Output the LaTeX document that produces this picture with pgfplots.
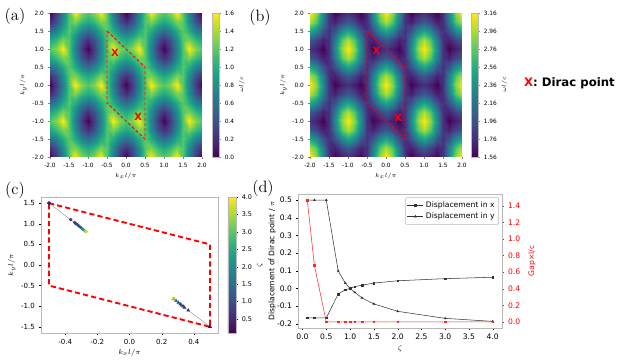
\documentclass[border=0pt]{standalone}
\usepackage{pgfplots}
\pgfplotsset{compat=1.18}
\usepackage{pgfplotstable}
\usepackage{fontspec}
\newfontfamily\dv{DejaVu Sans}
\definecolor{spine}{HTML}{B8B8B8}
\definecolor{mred}{HTML}{FF0000}
\definecolor{dline}{HTML}{333333}

% lower (L) and upper (U) band, omega l/c, on a k-grid
\pgfplotstableread{
x y L U
-2 -2 0 3.16
-1.83 -2 0.26 2.91
-1.67 -2 0.70 2.33
-1.5 -2 1.18 1.78
-1.33 -2 1.6 1.56
-1.17 -2 1.30 1.69
-1 -2 1.18 1.78
-0.83 -2 1.30 1.69
-0.67 -2 1.6 1.56
-0.5 -2 1.18 1.78
-0.33 -2 0.70 2.33
-0.17 -2 0.26 2.91
0 -2 0 3.16
0.17 -2 0.26 2.91
0.33 -2 0.70 2.33
0.5 -2 1.18 1.78
0.67 -2 1.6 1.56
0.83 -2 1.30 1.69
1 -2 1.18 1.78
1.17 -2 1.30 1.69
1.33 -2 1.6 1.56
1.5 -2 1.18 1.78
1.67 -2 0.70 2.33
1.83 -2 0.26 2.91
2 -2 0 3.16
-2 -1.75 0.21 2.97
-1.83 -1.75 0.39 2.75
-1.67 -1.75 0.78 2.23
-1.5 -1.75 1.18 1.78
-1.33 -1.75 1.28 1.70
-1.17 -1.75 1.07 1.89
-1 -1.75 0.96 2.01
-0.83 -1.75 1.07 1.89
-0.67 -1.75 1.28 1.70
-0.5 -1.75 1.18 1.78
-0.33 -1.75 0.78 2.23
-0.17 -1.75 0.39 2.75
0 -1.75 0.21 2.97
0.17 -1.75 0.39 2.75
0.33 -1.75 0.78 2.23
0.5 -1.75 1.18 1.78
0.67 -1.75 1.28 1.70
0.83 -1.75 1.07 1.89
1 -1.75 0.96 2.01
1.17 -1.75 1.07 1.89
1.33 -1.75 1.28 1.70
1.5 -1.75 1.18 1.78
1.67 -1.75 0.78 2.23
1.83 -1.75 0.39 2.75
2 -1.75 0.21 2.97
-2 -1.5 0.57 2.50
-1.83 -1.5 0.70 2.33
-1.67 -1.5 0.99 1.97
-1.5 -1.5 1.18 1.78
-1.33 -1.5 0.99 1.97
-1.17 -1.5 0.70 2.33
-1 -1.5 0.57 2.50
-0.83 -1.5 0.70 2.33
-0.67 -1.5 0.99 1.97
-0.5 -1.5 1.18 1.78
-0.33 -1.5 0.99 1.97
-0.17 -1.5 0.70 2.33
0 -1.5 0.57 2.50
0.17 -1.5 0.70 2.33
0.33 -1.5 0.99 1.97
0.5 -1.5 1.18 1.78
0.67 -1.5 0.99 1.97
0.83 -1.5 0.70 2.33
1 -1.5 0.57 2.50
1.17 -1.5 0.70 2.33
1.33 -1.5 0.99 1.97
1.5 -1.5 1.18 1.78
1.67 -1.5 0.99 1.97
1.83 -1.5 0.70 2.33
2 -1.5 0.57 2.50
-2 -1.25 0.96 2.01
-1.83 -1.25 1.07 1.89
-1.67 -1.25 1.28 1.70
-1.5 -1.25 1.18 1.78
-1.33 -1.25 0.78 2.23
-1.17 -1.25 0.39 2.75
-1 -1.25 0.21 2.97
-0.83 -1.25 0.39 2.75
-0.67 -1.25 0.78 2.23
-0.5 -1.25 1.18 1.78
-0.33 -1.25 1.28 1.70
-0.17 -1.25 1.07 1.89
0 -1.25 0.96 2.01
0.17 -1.25 1.07 1.89
0.33 -1.25 1.28 1.70
0.5 -1.25 1.18 1.78
0.67 -1.25 0.78 2.23
0.83 -1.25 0.39 2.75
1 -1.25 0.21 2.97
1.17 -1.25 0.39 2.75
1.33 -1.25 0.78 2.23
1.5 -1.25 1.18 1.78
1.67 -1.25 1.28 1.70
1.83 -1.25 1.07 1.89
2 -1.25 0.96 2.01
-2 -1 1.18 1.78
-1.83 -1 1.30 1.69
-1.67 -1 1.6 1.56
-1.5 -1 1.18 1.78
-1.33 -1 0.70 2.33
-1.17 -1 0.26 2.91
-1 -1 0 3.16
-0.83 -1 0.26 2.91
-0.67 -1 0.70 2.33
-0.5 -1 1.18 1.78
-0.33 -1 1.6 1.56
-0.17 -1 1.30 1.69
0 -1 1.18 1.78
0.17 -1 1.30 1.69
0.33 -1 1.6 1.56
0.5 -1 1.18 1.78
0.67 -1 0.70 2.33
0.83 -1 0.26 2.91
1 -1 0 3.16
1.17 -1 0.26 2.91
1.33 -1 0.70 2.33
1.5 -1 1.18 1.78
1.67 -1 1.6 1.56
1.83 -1 1.30 1.69
2 -1 1.18 1.78
-2 -0.75 0.96 2.01
-1.83 -0.75 1.07 1.89
-1.67 -0.75 1.28 1.70
-1.5 -0.75 1.18 1.78
-1.33 -0.75 0.78 2.23
-1.17 -0.75 0.39 2.75
-1 -0.75 0.21 2.97
-0.83 -0.75 0.39 2.75
-0.67 -0.75 0.78 2.23
-0.5 -0.75 1.18 1.78
-0.33 -0.75 1.28 1.70
-0.17 -0.75 1.07 1.89
0 -0.75 0.96 2.01
0.17 -0.75 1.07 1.89
0.33 -0.75 1.28 1.70
0.5 -0.75 1.18 1.78
0.67 -0.75 0.78 2.23
0.83 -0.75 0.39 2.75
1 -0.75 0.21 2.97
1.17 -0.75 0.39 2.75
1.33 -0.75 0.78 2.23
1.5 -0.75 1.18 1.78
1.67 -0.75 1.28 1.70
1.83 -0.75 1.07 1.89
2 -0.75 0.96 2.01
-2 -0.5 0.57 2.50
-1.83 -0.5 0.70 2.33
-1.67 -0.5 0.99 1.97
-1.5 -0.5 1.18 1.78
-1.33 -0.5 0.99 1.97
-1.17 -0.5 0.70 2.33
-1 -0.5 0.57 2.50
-0.83 -0.5 0.70 2.33
-0.67 -0.5 0.99 1.97
-0.5 -0.5 1.18 1.78
-0.33 -0.5 0.99 1.97
-0.17 -0.5 0.70 2.33
0 -0.5 0.57 2.50
0.17 -0.5 0.70 2.33
0.33 -0.5 0.99 1.97
0.5 -0.5 1.18 1.78
0.67 -0.5 0.99 1.97
0.83 -0.5 0.70 2.33
1 -0.5 0.57 2.50
1.17 -0.5 0.70 2.33
1.33 -0.5 0.99 1.97
1.5 -0.5 1.18 1.78
1.67 -0.5 0.99 1.97
1.83 -0.5 0.70 2.33
2 -0.5 0.57 2.50
-2 -0.25 0.21 2.97
-1.83 -0.25 0.39 2.75
-1.67 -0.25 0.78 2.23
-1.5 -0.25 1.18 1.78
-1.33 -0.25 1.28 1.70
-1.17 -0.25 1.07 1.89
-1 -0.25 0.96 2.01
-0.83 -0.25 1.07 1.89
-0.67 -0.25 1.28 1.70
-0.5 -0.25 1.18 1.78
-0.33 -0.25 0.78 2.23
-0.17 -0.25 0.39 2.75
0 -0.25 0.21 2.97
0.17 -0.25 0.39 2.75
0.33 -0.25 0.78 2.23
0.5 -0.25 1.18 1.78
0.67 -0.25 1.28 1.70
0.83 -0.25 1.07 1.89
1 -0.25 0.96 2.01
1.17 -0.25 1.07 1.89
1.33 -0.25 1.28 1.70
1.5 -0.25 1.18 1.78
1.67 -0.25 0.78 2.23
1.83 -0.25 0.39 2.75
2 -0.25 0.21 2.97
-2 0 0 3.16
-1.83 0 0.26 2.91
-1.67 0 0.70 2.33
-1.5 0 1.18 1.78
-1.33 0 1.6 1.56
-1.17 0 1.30 1.69
-1 0 1.18 1.78
-0.83 0 1.30 1.69
-0.67 0 1.6 1.56
-0.5 0 1.18 1.78
-0.33 0 0.70 2.33
-0.17 0 0.26 2.91
0 0 0 3.16
0.17 0 0.26 2.91
0.33 0 0.70 2.33
0.5 0 1.18 1.78
0.67 0 1.6 1.56
0.83 0 1.30 1.69
1 0 1.18 1.78
1.17 0 1.30 1.69
1.33 0 1.6 1.56
1.5 0 1.18 1.78
1.67 0 0.70 2.33
1.83 0 0.26 2.91
2 0 0 3.16
-2 0.25 0.21 2.97
-1.83 0.25 0.39 2.75
-1.67 0.25 0.78 2.23
-1.5 0.25 1.18 1.78
-1.33 0.25 1.28 1.70
-1.17 0.25 1.07 1.89
-1 0.25 0.96 2.01
-0.83 0.25 1.07 1.89
-0.67 0.25 1.28 1.70
-0.5 0.25 1.18 1.78
-0.33 0.25 0.78 2.23
-0.17 0.25 0.39 2.75
0 0.25 0.21 2.97
0.17 0.25 0.39 2.75
0.33 0.25 0.78 2.23
0.5 0.25 1.18 1.78
0.67 0.25 1.28 1.70
0.83 0.25 1.07 1.89
1 0.25 0.96 2.01
1.17 0.25 1.07 1.89
1.33 0.25 1.28 1.70
1.5 0.25 1.18 1.78
1.67 0.25 0.78 2.23
1.83 0.25 0.39 2.75
2 0.25 0.21 2.97
-2 0.5 0.57 2.50
-1.83 0.5 0.70 2.33
-1.67 0.5 0.99 1.97
-1.5 0.5 1.18 1.78
-1.33 0.5 0.99 1.97
-1.17 0.5 0.70 2.33
-1 0.5 0.57 2.50
-0.83 0.5 0.70 2.33
-0.67 0.5 0.99 1.97
-0.5 0.5 1.18 1.78
-0.33 0.5 0.99 1.97
-0.17 0.5 0.70 2.33
0 0.5 0.57 2.50
0.17 0.5 0.70 2.33
0.33 0.5 0.99 1.97
0.5 0.5 1.18 1.78
0.67 0.5 0.99 1.97
0.83 0.5 0.70 2.33
1 0.5 0.57 2.50
1.17 0.5 0.70 2.33
1.33 0.5 0.99 1.97
1.5 0.5 1.18 1.78
1.67 0.5 0.99 1.97
1.83 0.5 0.70 2.33
2 0.5 0.57 2.50
-2 0.75 0.96 2.01
-1.83 0.75 1.07 1.89
-1.67 0.75 1.28 1.70
-1.5 0.75 1.18 1.78
-1.33 0.75 0.78 2.23
-1.17 0.75 0.39 2.75
-1 0.75 0.21 2.97
-0.83 0.75 0.39 2.75
-0.67 0.75 0.78 2.23
-0.5 0.75 1.18 1.78
-0.33 0.75 1.28 1.70
-0.17 0.75 1.07 1.89
0 0.75 0.96 2.01
0.17 0.75 1.07 1.89
0.33 0.75 1.28 1.70
0.5 0.75 1.18 1.78
0.67 0.75 0.78 2.23
0.83 0.75 0.39 2.75
1 0.75 0.21 2.97
1.17 0.75 0.39 2.75
1.33 0.75 0.78 2.23
1.5 0.75 1.18 1.78
1.67 0.75 1.28 1.70
1.83 0.75 1.07 1.89
2 0.75 0.96 2.01
-2 1 1.18 1.78
-1.83 1 1.30 1.69
-1.67 1 1.6 1.56
-1.5 1 1.18 1.78
-1.33 1 0.70 2.33
-1.17 1 0.26 2.91
-1 1 0 3.16
-0.83 1 0.26 2.91
-0.67 1 0.70 2.33
-0.5 1 1.18 1.78
-0.33 1 1.6 1.56
-0.17 1 1.30 1.69
0 1 1.18 1.78
0.17 1 1.30 1.69
0.33 1 1.6 1.56
0.5 1 1.18 1.78
0.67 1 0.70 2.33
0.83 1 0.26 2.91
1 1 0 3.16
1.17 1 0.26 2.91
1.33 1 0.70 2.33
1.5 1 1.18 1.78
1.67 1 1.6 1.56
1.83 1 1.30 1.69
2 1 1.18 1.78
-2 1.25 0.96 2.01
-1.83 1.25 1.07 1.89
-1.67 1.25 1.28 1.70
-1.5 1.25 1.18 1.78
-1.33 1.25 0.78 2.23
-1.17 1.25 0.39 2.75
-1 1.25 0.21 2.97
-0.83 1.25 0.39 2.75
-0.67 1.25 0.78 2.23
-0.5 1.25 1.18 1.78
-0.33 1.25 1.28 1.70
-0.17 1.25 1.07 1.89
0 1.25 0.96 2.01
0.17 1.25 1.07 1.89
0.33 1.25 1.28 1.70
0.5 1.25 1.18 1.78
0.67 1.25 0.78 2.23
0.83 1.25 0.39 2.75
1 1.25 0.21 2.97
1.17 1.25 0.39 2.75
1.33 1.25 0.78 2.23
1.5 1.25 1.18 1.78
1.67 1.25 1.28 1.70
1.83 1.25 1.07 1.89
2 1.25 0.96 2.01
-2 1.5 0.57 2.50
-1.83 1.5 0.70 2.33
-1.67 1.5 0.99 1.97
-1.5 1.5 1.18 1.78
-1.33 1.5 0.99 1.97
-1.17 1.5 0.70 2.33
-1 1.5 0.57 2.50
-0.83 1.5 0.70 2.33
-0.67 1.5 0.99 1.97
-0.5 1.5 1.18 1.78
-0.33 1.5 0.99 1.97
-0.17 1.5 0.70 2.33
0 1.5 0.57 2.50
0.17 1.5 0.70 2.33
0.33 1.5 0.99 1.97
0.5 1.5 1.18 1.78
0.67 1.5 0.99 1.97
0.83 1.5 0.70 2.33
1 1.5 0.57 2.50
1.17 1.5 0.70 2.33
1.33 1.5 0.99 1.97
1.5 1.5 1.18 1.78
1.67 1.5 0.99 1.97
1.83 1.5 0.70 2.33
2 1.5 0.57 2.50
-2 1.75 0.21 2.97
-1.83 1.75 0.39 2.75
-1.67 1.75 0.78 2.23
-1.5 1.75 1.18 1.78
-1.33 1.75 1.28 1.70
-1.17 1.75 1.07 1.89
-1 1.75 0.96 2.01
-0.83 1.75 1.07 1.89
-0.67 1.75 1.28 1.70
-0.5 1.75 1.18 1.78
-0.33 1.75 0.78 2.23
-0.17 1.75 0.39 2.75
0 1.75 0.21 2.97
0.17 1.75 0.39 2.75
0.33 1.75 0.78 2.23
0.5 1.75 1.18 1.78
0.67 1.75 1.28 1.70
0.83 1.75 1.07 1.89
1 1.75 0.96 2.01
1.17 1.75 1.07 1.89
1.33 1.75 1.28 1.70
1.5 1.75 1.18 1.78
1.67 1.75 0.78 2.23
1.83 1.75 0.39 2.75
2 1.75 0.21 2.97
-2 2 0 3.16
-1.83 2 0.26 2.91
-1.67 2 0.70 2.33
-1.5 2 1.18 1.78
-1.33 2 1.6 1.56
-1.17 2 1.30 1.69
-1 2 1.18 1.78
-0.83 2 1.30 1.69
-0.67 2 1.6 1.56
-0.5 2 1.18 1.78
-0.33 2 0.70 2.33
-0.17 2 0.26 2.91
0 2 0 3.16
0.17 2 0.26 2.91
0.33 2 0.70 2.33
0.5 2 1.18 1.78
0.67 2 1.6 1.56
0.83 2 1.30 1.69
1 2 1.18 1.78
1.17 2 1.30 1.69
1.33 2 1.6 1.56
1.5 2 1.18 1.78
1.67 2 0.70 2.33
1.83 2 0.26 2.91
2 2 0 3.16
}\bands

% Dirac point positions (k/pi) against zeta
\pgfplotstableread{
z x1 y1 x2 y2
0.1 -0.5 1.5 0.5 -1.5
0.25 -0.5 1.5 0.5 -1.5
0.5 -0.5 1.5 0.5 -1.5
0.75 -0.365 1.099 0.365 -1.099
0.9 -0.341 1.03 0.341 -1.03
1.0 -0.333 1.0 0.333 -1.0
1.1 -0.323 0.977 0.323 -0.977
1.25 -0.315 0.946 0.315 -0.946
1.5 -0.303 0.912 0.303 -0.912
2.0 -0.29 0.87 0.29 -0.87
3.0 -0.278 0.83 0.278 -0.83
4.0 -0.27 0.813 0.27 -0.813
}\dirac

% displacement of the Dirac point and gap
\pgfplotstableread{
z dx dy gap
0.1 -0.167 0.5 1.47
0.25 -0.167 0.5 0.68
0.5 -0.167 0.5 0.0
0.75 -0.032 0.099 0.0
0.9 -0.008 0.03 0.0
1.0 0.0 0.0 0.0
1.1 0.01 -0.023 0.0
1.25 0.018 -0.054 0.0
1.5 0.03 -0.088 0.0
2.0 0.043 -0.13 0.0
3.0 0.055 -0.17 0.0
4.0 0.063 -0.187 0.0
}\shift

\pgfplotsset{
  every axis/.append style={scale only axis, tick align=outside,
    major tick length=0.06cm, /pgf/number format/assume math mode=true},
  onedec/.style={
    xticklabel={\pgfmathprintnumber[fixed,fixed zerofill,precision=1]{\tick}},
    yticklabel={\pgfmathprintnumber[fixed,fixed zerofill,precision=1]{\tick}}},
  cbar/.style={
    at={(parent axis.north east)}, anchor=north west,
    ytick pos=right, yticklabel pos=right, axis line style={spine},
    major tick length=0.05cm, ylabel shift=-3pt},
  heat/.style={
    anchor=south west, width=4.56cm, height=4.32cm,
    view={0}{90}, enlargelimits=false, tick pos=left,
    xmin=-2, xmax=2, ymin=-2, ymax=2, ztick=\empty,
    xtick={-2,-1.5,-1,-0.5,0,0.5,1,1.5,2},
    ytick={-2,-1.5,-1,-0.5,0,0.5,1,1.5,2}, onedec,
    ticklabel style={font=\dv\fontsize{5}{6}\selectfont},
    xlabel={$k_x l/\pi$}, ylabel={$k_y l/\pi$},
    label style={font=\fontsize{5.5}{6}\selectfont},
    xlabel style={yshift=2pt}, ylabel style={yshift=-2pt},
    axis line style={draw=none},
    colormap/viridis, colorbar},
  bz/.style={mred, dashed, line width=0.8pt, dash pattern=on 2.6pt off 1.8pt},
  xmk/.style={only marks, mark=text, text mark={X}, text mark as node=true,
    text mark style={text=mred, font=\dv\bfseries\fontsize{8.5}{8.5}\selectfont}},
}

\begin{document}
\begin{tikzpicture}
\useasboundingbox (0,0) rectangle (19.2cm,10.8cm);

% (a) lower band
\begin{axis}[heat, at={(1.5cm,6.09cm)},
  point meta min=0, point meta max=1.6,
  colorbar style={cbar, xshift=0cm, width=0.21cm,
    ytick={0,0.2,0.4,0.6,0.8,1,1.2,1.4,1.6},
    yticklabel={\pgfmathprintnumber[fixed,fixed zerofill,precision=1]{\tick}},
    yticklabel style={font=\dv\fontsize{5}{6}\selectfont},
    ylabel={$\omega l/c$}, ylabel style={font=\fontsize{5}{6}\selectfont}}]
\addplot3[surf, shader=interp, mesh/cols=25] table[x=x, y=y, z=L] {\bands};
\addplot3[bz] coordinates {(-0.5,1.5,1.6) (0.5,0.5,1.6) (0.5,-1.5,1.6) (-0.5,-0.5,1.6) (-0.5,1.5,1.6)};
\addplot3[xmk] coordinates {(-0.29,0.9,1.6) (0.32,-0.88,1.6)};
\end{axis}

% (b) upper band
\begin{axis}[heat, at={(9.3cm,6.09cm)},
  point meta min=1.56, point meta max=3.16,
  colorbar style={cbar, xshift=-0.03cm, width=0.21cm,
    ytick={1.56,1.76,1.96,2.16,2.36,2.56,2.76,2.96,3.16},
    yticklabel={\pgfmathprintnumber[fixed,fixed zerofill,precision=2]{\tick}},
    yticklabel style={font=\dv\fontsize{5}{6}\selectfont},
    ylabel={$\omega l/c$}, ylabel style={font=\fontsize{5}{6}\selectfont}}]
\addplot3[surf, shader=interp, mesh/cols=25] table[x=x, y=y, z=U] {\bands};
\addplot3[bz] coordinates {(-0.5,1.5,3.2) (0.5,0.5,3.2) (0.5,-1.5,3.2) (-0.5,-0.5,3.2) (-0.5,1.5,3.2)};
\addplot3[xmk] coordinates {(-0.25,0.95,3.2) (0.32,-0.9,3.2)};
\end{axis}

% (c) Dirac point trajectory
\begin{axis}[at={(1.23cm,0.81cm)}, anchor=south west,
  width=5.31cm, height=4.08cm, tick pos=left,
  xmin=-0.55, xmax=0.55, ymin=-1.65, ymax=1.65,
  xtick={-0.4,-0.2,0,0.2,0.4}, ytick={-1.5,-1,-0.5,0,0.5,1,1.5}, onedec,
  ticklabel style={font=\dv\fontsize{6}{7}\selectfont},
  xlabel={$k_x l/\pi$}, ylabel={$k_y l/\pi$},
  label style={font=\fontsize{6}{7}\selectfont},
  xlabel style={yshift=3pt}, ylabel style={yshift=-2pt},
  axis line style={spine}, tick style={black},
  colormap/viridis, point meta min=0.1, point meta max=4,
  colorbar, colorbar style={cbar, xshift=0cm, width=0.24cm,
    ytick={0.5,1,1.5,2,2.5,3,3.5,4},
    yticklabel={\pgfmathprintnumber[fixed,fixed zerofill,precision=1]{\tick}},
    yticklabel style={font=\dv\fontsize{5.5}{6}\selectfont},
    ylabel={$\zeta$}, ylabel style={font=\fontsize{6}{7}\selectfont}}]
\addplot[mred, line width=1.6pt, dash pattern=on 4.5pt off 2.6pt] coordinates {(-0.5,1.5) (0.5,0.5) (0.5,-1.5) (-0.5,-0.5) (-0.5,1.5)};
\addplot[gray, line width=0.3pt] table[x=x1, y=y1] {\dirac};
\addplot[gray, line width=0.3pt] table[x=x2, y=y2] {\dirac};
\addplot[scatter, only marks, mark=*, mark size=1.2pt, point meta=explicit] table[x=x1, y=y1, meta=z] {\dirac};
\addplot[scatter, only marks, mark=triangle*, mark size=1.4pt, point meta=explicit] table[x=x2, y=y2, meta=z] {\dirac};
\end{axis}

% (d) displacement and gap
\begin{axis}[at={(8.94cm,0.96cm)}, anchor=south west,
  width=6.12cm, height=4.02cm, tick pos=left,
  xmin=-0.095, xmax=4.195, ymin=-0.2245, ymax=0.5345,
  xtick={0,0.5,1,1.5,2,2.5,3,3.5,4},
  ytick={-0.2,-0.1,0,0.1,0.2,0.3,0.4,0.5}, onedec,
  ticklabel style={font=\dv\fontsize{6.5}{7}\selectfont},
  xlabel={$\zeta$}, ylabel={\dv Displacement of Dirac point / $\pi$},
  label style={font=\fontsize{6.5}{7}\selectfont},
  xlabel style={yshift=2pt}, ylabel shift=-6pt,
  axis line style={spine}, tick style={black},
  legend style={at={(0.985,0.975)}, anchor=north east, draw=spine,
    rounded corners=1pt, font=\dv\fontsize{6.5}{7.5}\selectfont,
    inner sep=1.5pt, row sep=-1pt},
  legend cell align=left,
  legend image code/.code={\draw[mark repeat=2, mark phase=2, #1] plot coordinates {(0cm,0cm) (0.24cm,0cm) (0.48cm,0cm)};}]
\addplot[dline, line width=0.45pt, mark=square*, mark size=0.7pt] table[x=z, y=dx] {\shift};
\addlegendentry{Displacement in x}
\addplot[dline, line width=0.45pt, mark=triangle*, mark size=0.9pt] table[x=z, y=dy] {\shift};
\addlegendentry{Displacement in y}
\end{axis}
\begin{axis}[at={(8.94cm,0.96cm)}, anchor=south west,
  width=6.12cm, height=4.02cm,
  xmin=-0.095, xmax=4.195, ymin=-0.0735, ymax=1.5435,
  axis x line=none, axis y line*=right, ytick pos=right,
  ytick={0,0.2,0.4,0.6,0.8,1,1.2,1.4},
  yticklabel={\pgfmathprintnumber[fixed,fixed zerofill,precision=1]{\tick}},
  yticklabel style={font=\dv\fontsize{6.5}{7}\selectfont, text=mred},
  ylabel={\dv Gap×l/c}, ylabel style={font=\fontsize{6.5}{7}\selectfont, text=mred},
  axis line style={spine}, ytick style={mred}]
\addplot[mred!85, line width=0.45pt, mark=square*, mark size=0.7pt] table[x=z, y=gap] {\shift};
\end{axis}

% panel letters and key
\node[font=\fontfamily{lmr}\selectfont\fontsize{14}{14}\selectfont] at (0.45cm,10.32cm) {(a)};
\node[font=\fontfamily{lmr}\selectfont\fontsize{14}{14}\selectfont] at (7.8cm,10.29cm) {(b)};
\node[font=\fontfamily{lmr}\selectfont\fontsize{14}{14}\selectfont] at (0.45cm,5.1cm) {(c)};
\node[font=\fontfamily{lmr}\selectfont\fontsize{14}{14}\selectfont] at (7.89cm,5.16cm) {(d)};
\node[anchor=west, font=\dv\bfseries\fontsize{10}{12}\selectfont] at (15.6cm,8.31cm) {\textcolor{mred}{X}: Dirac point};
\end{tikzpicture}
\end{document}
